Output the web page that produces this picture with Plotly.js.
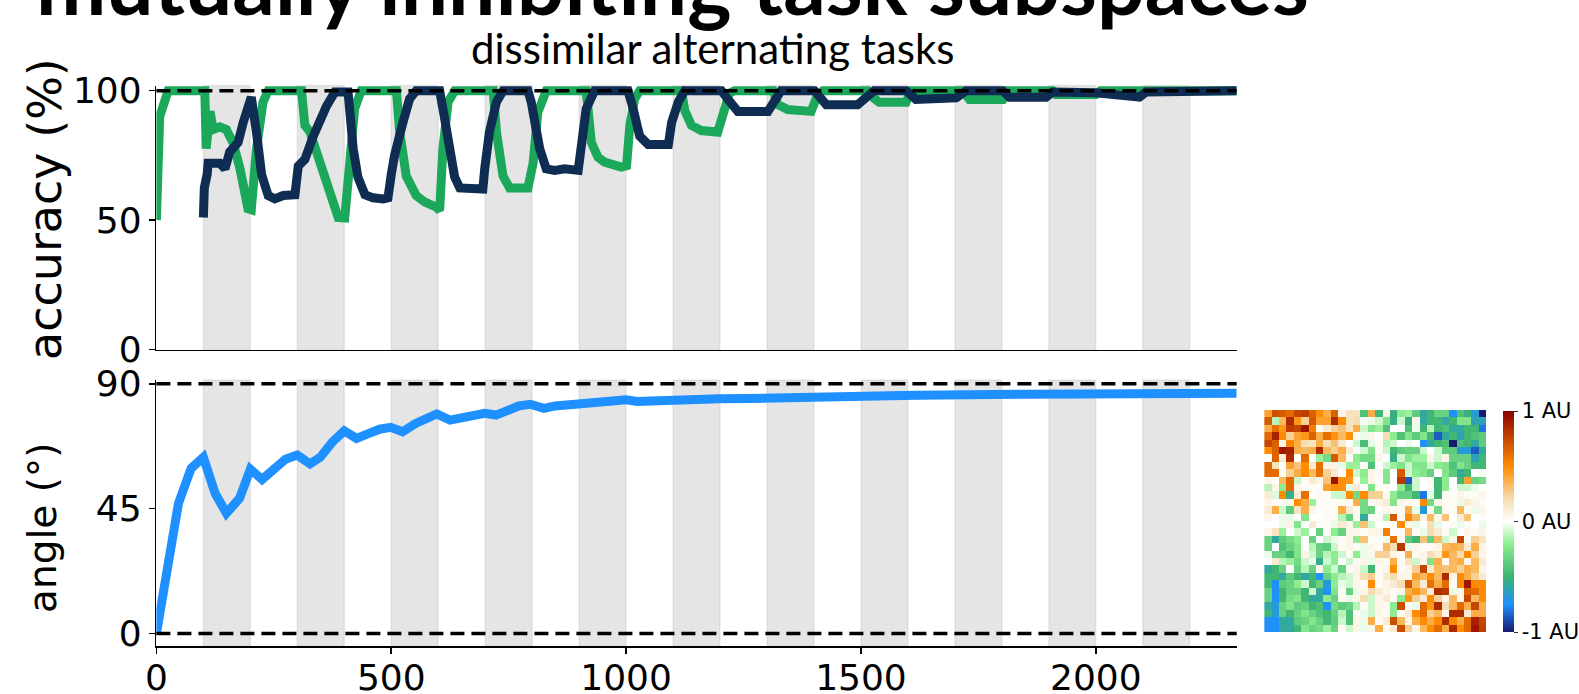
<!DOCTYPE html>
<html>
<head>
<meta charset="utf-8">
<script src="https://cdn.plot.ly/plotly-3.0.1.min.js"></script>
<style>html,body{margin:0;padding:0;background:#fff;overflow:hidden}#chart{width:1579px;height:694px}</style>
</head>
<body>
<div id="chart"></div>
<script>
// ---- data ----
const mainTitle = "mutually inhibiting task subspaces";
const subTitle = "dissimilar alternating tasks";
const accTitle = "accuracy (%)";
const angTitle = "angle (°)";

const greenX = [0,7,25,103,106,114,121,135,149,164,178,195,202,213,227,238,309,316,327,355,373,387,401,412,422,436,511,518,532,553,571,596,603,610,621,635,717,724,738,752,791,802,812,830,915,926,940,954,990,1001,1008,1018,1029,1118,1125,1139,1160,1195,1206,1220,1231,1313,1323,1344,1394,1408,1419,1514,1528,1539,1596,1607,1717,1731,1802,1812,1908,1915,2000,2010,2300];
const greenY = [50,90,100,100,77.6,92,85,86,85,79.5,69.8,54.4,54,77.6,95.6,100,100,86.6,84,69.8,59.5,51,50.8,77.6,93,100,100,84,67,59.5,57,55,53.7,77.6,95.6,100,100,84,67,62.4,62.4,72,91.6,100,100,80,74.3,72.4,70.5,71,86.6,96.8,100,100,92.3,86.6,84.6,84,91.6,99,100,100,94.6,92.7,92,98.5,100,100,97,95.5,95.5,100,100,96.6,96.6,100,100,98.5,98.5,100,100];

const navyX = [100,102,108,110,135,146,156,174,185,199,202,213,224,238,252,270,295,302,316,334,348,362,380,397,408,419,429,444,461,483,493,500,507,525,539,553,603,610,624,635,646,695,699,709,724,738,791,798,816,830,848,869,898,905,915,933,1004,1015,1029,1047,1090,1097,1111,1125,1203,1217,1238,1302,1316,1330,1401,1426,1493,1514,1528,1596,1617,1639,1703,1724,1802,1816,1894,1908,2000,2093,2107,2300];
const navyY = [51,62.4,67.6,72,72,69.8,76.3,80,87.8,96.8,97.5,84,67.6,59.5,58.2,59.5,59.8,70.9,73.4,82.4,88.8,94,99.5,100,99.5,77.6,66.6,59.8,58.6,58.2,58.6,67.6,75,87.8,96.8,100,100,93,77.6,66.6,62.4,62,69.8,84,95.6,100,100,95.6,77.6,69.8,69.2,69.8,69.2,80,93,100,100,93,82.4,79.2,79.2,87.8,95.6,100,100,96.6,92,92,96.8,100,100,94.6,94.6,98,100,100,96.6,96.8,97.2,100,100,97.5,97.5,99.5,99.2,97.5,99.5,100];

const angleX = [0,47,74,100,125,149,177,200,225,251,275,300,327,349,375,400,426,450,475,499,524,552,572,597,625,650,674,699,723,747,772,796,825,849,874,898,922,947,971,1000,1024,1053,1102,1150,1199,1263,1397,1618,1855,2068,2300];
const angleY = [0,46.9,59.5,63.5,50.5,43.3,48.7,59.2,55.5,59.2,62.8,64.3,61.1,63.5,69.1,73,70.3,71.9,73.6,74.3,72.7,75.7,77.5,79.1,76.9,77.8,78.7,79.3,78.7,80.5,82,82.6,81.1,82,82.5,82.7,82.7,83.2,83.8,84.2,83.6,83.8,84.2,84.4,84.6,84.7,85.4,85.8,86.2,86.4,86.6];

const accTicks = [0,50,100];
const angTicks = [0,45,90];
const stepTicks = [0,500,1000,1500,2000];
const cbTickVals = [-1,0,1];
const cbTickText = ["-1 AU","0 AU","1 AU"];

const heatZ = [
[0.42,0.72,0.68,0.62,0.75,0.78,0.65,0.5,0.38,0.65,0.06,0.17,0.17,-0.43,0.38,-0.48,0.06,-0.53,-0.21,-0.18,-0.38,-0.58,-0.48,-0.34,-0.34,-0.74,-0.43,-0.53,-0.68,-1],
[0.68,-0.13,0.34,0.85,0.46,0.25,0.68,0.42,0.42,0.85,0.5,0.17,0.2,-0.02,-0.04,-0.09,-0.25,-0.53,-0.09,-0.53,0.06,-0.58,-0.48,-0.48,-0.58,-0.48,-0.25,-0.25,-0.62,-0.62],
[0.38,0.6,0.46,0.78,0.75,0.92,0.55,0.03,0.12,0.25,0.3,0.17,0.38,-0.09,-0.25,-0.18,-0.43,0,0,-0.43,-0.04,-0.48,-0.13,-0.48,-0.43,-0.58,-0.58,-0.48,-0.48,-0.8],
[0.62,0.88,0.5,0.25,0.42,0.46,0.65,0.38,0.6,0.48,0.34,0.48,0.03,-0.04,0.06,0,0.2,-0.21,-0.43,-0.25,-0.38,-0.25,-0.48,-0.86,-0.58,-0.48,-0.62,-0.48,-0.43,-0.38],
[0.75,0.65,0.06,0.52,0.38,0.2,0.17,0.38,0.2,0.3,0.12,0,-0.09,-0.45,-0.04,0.03,-0.13,-0.09,0,-0.04,0,-0.74,-0.58,-0.48,-0.43,-1,-0.43,-0.48,-0.58,-0.38],
[0.5,0.65,0.92,0.88,0.38,0.34,0.38,0.85,0.34,0.25,0.38,0.12,0,-0.09,-0.25,0.03,-0.09,-0.48,-0.38,-0.34,-0.34,-0.09,0,-0.09,-0.38,-0.38,-0.68,-0.68,-0.86,-0.58],
[0,0.65,0.12,0.85,0.02,0.62,0.02,-0.18,-0.3,0.68,0.34,0.02,-0.21,-0.3,-0.3,0.06,0,-0.53,-0.09,-0.25,-0.18,-0.18,0.06,-0.09,0.06,-0.34,-0.34,-0.34,-0.62,-0.48],
[0.62,0.17,0,0.42,0.3,0.5,0.12,0.6,0.06,0.06,-0.04,-0.18,-0.18,0.02,-0.43,0,-0.09,-0.18,-0.25,-0.09,-0.25,-0.25,-0.09,-0.21,-0.25,-0.43,-0.25,-0.34,-0.48,-0.48],
[0.62,0.62,0.04,0.25,0.38,0.5,0.34,0.6,0.25,0.12,0.03,0.5,-0.09,-0.21,0.06,0.04,-0.25,0,0.68,-0.09,-0.21,-0.25,-0.34,0,-0.25,-0.38,-0.58,-0.48,0,-0.02],
[0.06,0,0.34,0.62,-0.09,0.03,0.12,0.06,0.3,0.92,0.48,0.46,0.03,-0.18,0.06,0,-0.25,0,0.8,-0.86,-0.09,0,0.03,-0.48,-0.21,0,-0.48,0.42,-0.34,-0.3],
[-0.13,0.06,-0.21,0.62,0.06,0.03,0.03,0.03,0.42,0.48,0.48,-0.04,0.12,0,-0.25,0.02,0.02,0,-0.21,-0.48,-0.09,0,0,-0.48,-0.21,0,-0.09,-0.09,-0.04,0],
[0.12,-0.06,0.5,-0.53,0.12,0.6,0,0.03,0.03,-0.09,-0.09,0.5,-0.3,0.5,0.25,0.25,0.03,-0.21,-0.34,-0.34,-0.48,-0.8,-0.04,-0.48,0.02,0.02,0.06,0.03,0.03,0.06],
[0.06,0.03,0.03,0.06,0.5,0.38,-0.18,0.02,0.02,0.03,0.03,0.03,0.38,-0.3,0.03,0.06,0.12,-0.25,0.06,0.03,0.03,0.5,-0.3,0.06,0.03,0.03,-0.04,0.12,0.06,0.03],
[0.12,0.38,-0.09,-0.38,0.17,0.38,0.06,0.02,0.02,0.03,0.38,0.12,0.03,-0.3,-0.34,0.03,0.06,0.03,0.03,0.38,-0.04,-0.68,0.03,-0.3,0.03,0.03,0.34,0.03,-0.04,0.06],
[0.06,0,-0.04,-0.04,0,-0.25,0,0,0.03,0.03,-0.13,-0.34,0.03,-0.58,0.03,0.03,-0.13,0.68,0.03,0.5,0.34,0.06,0.34,0.06,0.3,0,0.12,0.3,0,0.03],
[0,0,-0.04,0.06,-0.25,0,0.12,0.02,0.03,-0.04,0.12,0.06,-0.18,0.3,-0.09,0,0.02,0.03,0.5,0.06,-0.04,0,0.2,-0.04,0,0.03,-0.04,0.03,0,-0.04],
[0.06,0.17,-0.18,0,-0.09,-0.18,0,-0.34,0.02,-0.21,-0.34,0.06,0.06,0.03,0.06,0.06,0.55,0.03,0.03,0.34,0.03,-0.04,0.2,0.12,0.03,-0.09,0,0.06,0.03,0.06],
[-0.34,-0.58,-0.38,-0.3,-0.21,0,-0.34,0,-0.09,-0.04,0.03,0.06,-0.21,0.3,0.03,0,-0.04,0.6,0.03,-0.38,-0.48,0.3,-0.34,0.34,-0.09,0.06,0.75,0.03,0.25,0.17],
[-0.34,0,-0.43,-0.34,-0.25,0,-0.13,-0.34,-0.38,-0.09,0.03,0.06,0.03,-0.04,0.06,0.03,0.34,0.2,0.8,-0.04,0.06,0.03,0.03,0.06,0.34,0.38,0.34,0.12,0.38,0.06],
[-0.04,-0.34,-0.34,-0.48,-0.25,0.06,-0.09,-0.34,-0.13,-0.21,-0.09,0.03,-0.21,-0.04,0.06,0.25,0.25,0.06,0.03,0.38,0.03,0.06,0.2,0.12,0.46,0.34,0.2,0.5,0.25,0.06],
[0,0.12,-0.13,-0.18,-0.3,-0.09,-0.04,-0.55,-0.09,-0.21,0,-0.09,0.03,0.06,-0.04,0.06,0.03,0.38,0.03,0.17,-0.09,0.06,-0.25,0.38,0.03,0.34,0.38,0.06,0.34,0.12],
[-0.58,-0.48,-0.34,0,-0.34,-0.13,-0.34,0.06,-0.21,-0.09,-0.34,0.03,0.06,-0.09,-0.48,0.03,0.06,0.5,0.03,0.06,0.25,0.75,0.12,0.34,0.3,0.34,0.25,0.38,0.34,0.06],
[-0.48,-0.48,-0.58,-0.38,-0.48,-0.58,-0.48,-0.74,-0.34,-0.21,-0.13,-0.09,0.06,0.2,0.25,0.03,0.12,0.2,0.06,0.06,0.42,0.34,0.5,0.34,0.85,0.06,0.5,0.38,0.25,0.12],
[-0.48,-0.74,-0.38,-0.34,-0.21,-0.09,-0.48,-0.34,-0.68,-0.21,-0.04,-0.09,0.06,0.03,0.5,0.03,0.06,0.12,0.2,0.68,0.34,0.12,0.6,0.38,0.62,0.03,0.5,0.92,0.5,0.5],
[-0.34,-0.74,-0.48,-0.34,-0.34,-0.48,-0.09,-0.58,-0.74,-0.25,0.03,-0.34,-0.04,0.06,0.2,0.12,0.06,0.03,0.06,0.38,0.46,0.34,0.12,0.85,0.8,-0.04,0.06,0.65,0.62,0.5],
[-0.34,-0.74,-0.48,-0.3,-0.25,-0.48,-0.58,-0.58,-0.21,-0.34,0.03,-0.04,0.06,0.2,-0.09,0.06,0.12,0.03,-0.21,0.46,0.25,0.12,0.5,0.25,0.06,0.34,0.06,0.75,0.34,0.5],
[-0.58,-0.68,-0.34,-0.25,-0.38,-0.34,-0.48,-0.43,-0.74,-0.3,-0.38,-0.34,-0.13,0.03,-0.09,0.06,0.03,-0.21,0.72,0.03,-0.04,0.62,0.46,0.85,0.2,0.34,0.62,0.38,0.75,0.38],
[-0.48,-0.68,-0.34,-0.48,-0.34,-0.25,-0.34,-0.43,-0.48,-0.34,-0.13,-0.43,0.03,-0.04,-0.09,0.06,0.03,-0.21,0.03,0.12,0.5,0.62,0.25,0.34,0.06,0.85,0.85,0.12,0.38,0.38],
[-0.74,-0.74,-0.58,-0.58,-0.38,-0.34,-0.25,-0.34,-0.48,-0.38,-0.09,-0.43,0.06,-0.04,0.38,0.03,0.12,0.72,0.34,0.06,0.38,0.5,0.38,0.5,0.85,0.5,0.38,0.62,0.88,0.75],
[-0.74,-0.74,-0.58,-0.58,-0.48,-0.25,-0.34,-0.3,-0.18,-0.34,0.03,-0.09,0.06,-0.04,0.06,0.38,0.03,0.12,0.72,0.25,0.06,0.34,0.5,0.62,0.38,0.85,0.5,0.62,0.92,0.78]
];

// ---- styling / layout ----
const W = 1579, H = 694;
const px = v => v / W;
const py = v => 1 - v / H;

const xDom = [px(156.5), px(1237.5)];
const topDom = [py(349.5), py(85.5)];
const botDom = [py(646.2), py(380.1)];
const xRange = [0, 2300];
const switchPeriod = 100;

const tickFont = {family: "DejaVu Sans", size: 36, color: "#000"};

const shapes = [];
for (let s = switchPeriod; s + switchPeriod <= xRange[1]; s += 2 * switchPeriod) {
  for (const [xr, yr] of [["x", "y domain"], ["x2", "y2 domain"]]) {
    shapes.push({type: "rect", xref: xr, yref: yr, x0: s, x1: s + switchPeriod, y0: 0, y1: 1,
      fillcolor: "rgba(0,0,0,0.1)", line: {color: "rgba(0,0,0,0.07)", width: 1.5}, layer: "below"});
  }
}
const dash = {color: "#000", width: 3.5, dash: "14px,7px"};
shapes.push({type: "line", xref: "x domain", yref: "y", x0: 0, x1: 1, y0: accTicks[2], y1: accTicks[2], line: dash, layer: "above"});
shapes.push({type: "line", xref: "x2 domain", yref: "y2", x0: 0, x1: 1, y0: angTicks[2], y1: angTicks[2], line: dash, layer: "above"});
shapes.push({type: "line", xref: "x2 domain", yref: "y2", x0: 0, x1: 1, y0: angTicks[0], y1: angTicks[0], line: dash, layer: "above"});

const traces = [
  {x: greenX, y: greenY, xaxis: "x", yaxis: "y", mode: "lines", line: {color: "#1ca85a", width: 9}, hoverinfo: "skip"},
  {x: navyX, y: navyY, xaxis: "x", yaxis: "y", mode: "lines", line: {color: "#0f2d52", width: 9}, hoverinfo: "skip"},
  {x: angleX, y: angleY, xaxis: "x2", yaxis: "y2", mode: "lines", line: {color: "#1e90ff", width: 9}, hoverinfo: "skip"},
  {z: heatZ, type: "heatmap", xaxis: "x3", yaxis: "y3", zmin: -1, zmax: 1, hoverinfo: "skip",
   colorscale: [[0, "#191970"], [0.125, "#1e90ff"], [0.25, "#3cb371"], [0.4, "#90ee90"], [0.5, "#ffffff"],
                [0.6, "#f5deb3"], [0.75, "#ff8c00"], [1, "#8b0000"]],
   colorbar: {x: px(1503), xanchor: "left", xpad: 0, ypad: 0, y: py(411), yanchor: "top",
              len: 221, lenmode: "pixels", thickness: 11, thicknessmode: "pixels", outlinewidth: 0,
              tickvals: cbTickVals, ticktext: cbTickText, ticks: "outside", ticklen: 4, tickwidth: 1, tickcolor: "#333",
              tickfont: {family: "DejaVu Sans", size: 21, color: "#000"}}}
];

const axBase = {showgrid: false, zeroline: false, showline: true, linecolor: "#000", linewidth: 1.6,
  tickcolor: "#000", tickwidth: 1.6, ticklen: 6, tickfont: tickFont, fixedrange: true};

const layout = {
  width: W, height: H, margin: {l: 0, r: 0, t: 0, b: 0}, paper_bgcolor: "#fff", plot_bgcolor: "rgba(0,0,0,0)",
  showlegend: false,
  xaxis: Object.assign({}, axBase, {domain: xDom, range: xRange, anchor: "y", ticks: "", showticklabels: false}),
  yaxis: Object.assign({}, axBase, {domain: topDom, range: [0, 102], anchor: "x", tickvals: accTicks, ticks: "outside"}),
  xaxis2: Object.assign({}, axBase, {domain: xDom, range: xRange, anchor: "y2", tickvals: stepTicks, ticks: "outside", ticklabelstandoff: -7}),
  yaxis2: Object.assign({}, axBase, {domain: botDom, range: [-4.6, 91.3], anchor: "x2", tickvals: angTicks, ticks: "outside"}),
  xaxis3: {domain: [px(1265), px(1487)], anchor: "y3", showgrid: false, zeroline: false, showticklabels: false, ticks: "", showline: false},
  yaxis3: {domain: [py(632), py(410)], anchor: "x3", autorange: "reversed", showgrid: false, zeroline: false, showticklabels: false, ticks: "", showline: false},
  shapes: shapes,
  annotations: [
    {text: mainTitle, xref: "paper", yref: "paper", x: px(673), y: py(34), xanchor: "center", yanchor: "bottom",
     showarrow: false, borderpad: 0, font: {family: "Lato", size: 84, weight: 700, color: "#000"}},
    {text: subTitle, xref: "paper", yref: "paper", x: px(713), y: py(73.5), xanchor: "center", yanchor: "bottom",
     showarrow: false, borderpad: 0, font: {family: "Lato", size: 42, color: "#000"}},
    {text: accTitle, xref: "paper", yref: "paper", x: px(45), y: py(209), xanchor: "center", yanchor: "middle",
     textangle: -90, showarrow: false, borderpad: 0, font: {family: "DejaVu Sans", size: 46, color: "#000"}},
    {text: angTitle, xref: "paper", yref: "paper", x: px(42), y: py(527), xanchor: "center", yanchor: "middle",
     textangle: -90, showarrow: false, borderpad: 0, font: {family: "DejaVu Sans", size: 39, color: "#000"}}
  ]
};

Plotly.newPlot("chart", traces, layout, {staticPlot: true, displayModeBar: false});
</script>
</body>
</html>
